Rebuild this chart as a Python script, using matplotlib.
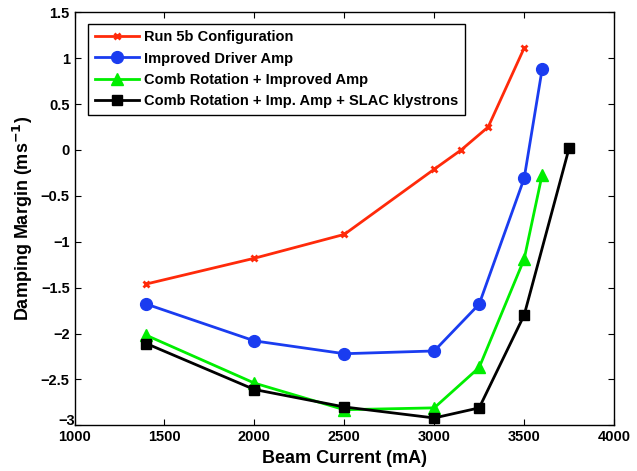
import numpy as np
import matplotlib.pyplot as plt
import matplotlib as mpl
from matplotlib.transforms import ScaledTranslation

mpl.rcParams['font.family'] = 'Liberation Sans'
mpl.rcParams['font.weight'] = 'bold'
mpl.rcParams['xtick.direction'] = 'in'
mpl.rcParams['ytick.direction'] = 'in'
mpl.rcParams['xtick.top'] = True
mpl.rcParams['ytick.right'] = True

# beam current (mA) and damping margin (1/ms) for each configuration
run5b_x = [1400, 2000, 2500, 3000, 3150, 3300, 3500]
run5b_y = [-1.46, -1.18, -0.92, -0.21, 0.0, 0.25, 1.11]

driver_x = [1400, 2000, 2500, 3000, 3250, 3500, 3600]
driver_y = [-1.68, -2.08, -2.22, -2.19, -1.68, -0.31, 0.88]

comb_x = [1400, 2000, 2500, 3000, 3250, 3500, 3600]
comb_y = [-2.02, -2.54, -2.83, -2.81, -2.37, -1.19, -0.27]

slac_x = [1400, 2000, 2500, 3000, 3250, 3500, 3750]
slac_y = [-2.11, -2.61, -2.80, -2.92, -2.81, -1.80, 0.02]

labels = ['Run 5b Configuration',
          'Improved Driver Amp',
          'Comb Rotation + Improved Amp',
          'Comb Rotation + Imp. Amp + SLAC klystrons']

fig = plt.figure(figsize=(6.37, 4.71), dpi=100)
ax = fig.add_axes([0.117, 0.097, 0.847, 0.877])

ax.plot(run5b_x, run5b_y, c='#ff2a0a', lw=2, marker='x', ms=5, mew=2, label=labels[0])
ax.plot(driver_x, driver_y, c='#1a3cf0', lw=2, marker='o', ms=8.5, label=labels[1])
ax.plot(comb_x, comb_y, c='#00ee00', lw=2, marker='^', ms=9, label=labels[2])
ax.plot(slac_x, slac_y, c='k', lw=2, marker='s', ms=7, label=labels[3])

ax.set_xlim(1000, 4000)
ax.set_ylim(-3, 1.5)
ax.set_xticks(np.arange(1000, 4001, 500))
ax.set_yticks(np.arange(-3, 1.51, 0.5))
ax.set_yticklabels(['\u22123', '\u22122.5', '\u22122', '\u22121.5', '\u22121', '\u22120.5',
                    '0', '0.5', '1', '1.5'])
ax.tick_params(labelsize=10.5, length=4, width=0.8)
# matlab style: lowest y label sits a bit higher, clear of the 1000
ax.get_yticklabels()[0].set_transform(ax.get_yaxis_transform(which='tick1')
                                      + ScaledTranslation(0, 4/72, fig.dpi_scale_trans))
ax.set_xlabel('Beam Current (mA)', fontsize=13, fontweight='bold', labelpad=4)
ax.set_ylabel(r'Damping Margin (ms$^{\mathbf{-1}}$)', fontsize=13, fontweight='bold', labelpad=4)
for s in ax.spines.values():
    s.set_linewidth(1)

leg = ax.legend(loc='upper left', bbox_to_anchor=(0.012, 0.99), fontsize=10.5,
                fancybox=False, framealpha=1, edgecolor='k', handlelength=3.0,
                borderpad=0.45, labelspacing=0.5, handletextpad=0.4)
leg.get_frame().set_linewidth(1)

fig.savefig('out.png', dpi=100)
